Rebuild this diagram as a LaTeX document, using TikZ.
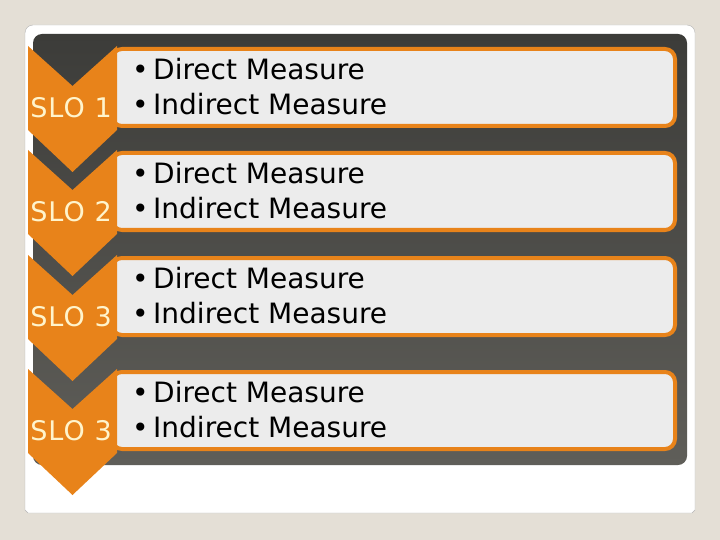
\documentclass[tikz,border=0pt]{standalone}
\usepackage{fontspec}
\setmainfont{DejaVu Sans}
\definecolor{bg}{HTML}{E4DFD6}
\definecolor{orng}{HTML}{E8831A}
\definecolor{darktop}{HTML}{3C3C39}
\definecolor{darkbot}{HTML}{5F5E59}
\definecolor{boxfill}{HTML}{ECECEC}
\definecolor{cream}{HTML}{FFF4CC}
\definecolor{slideline}{HTML}{B4B4B4}
\tikzset{
  itembox/.style={draw=orng, line width=4pt, fill=boxfill, rounded corners=10pt},
  chevron/.style={fill=orng},
  slotext/.style={text=cream, font=\fontsize{27}{32}\selectfont\addfontfeature{LetterSpace=4}, inner sep=0pt},
  itemtext/.style={text=black, font=\fontsize{28}{33}\selectfont, inner sep=0pt, anchor=west},
}
\begin{document}
\begin{tikzpicture}[x=1pt,y=-1pt]
\fill[bg] (0,0) rectangle (720,540);
\useasboundingbox (0,0) rectangle (720,540);
\draw[slideline, fill=white] (25,510) -- (25,33) [rounded corners=8pt] -- (25,25) -- (695,25) [sharp corners] -- (695,33) -- (695,510) -- (692,513) -- (28,513) -- cycle;
\shade[top color=darktop, bottom color=darkbot, rounded corners=9pt] (33,34) rectangle (687,465);
\foreach \b/\lab [count=\i] in {47/1,151/2,256/3,370/3}{
  \draw[itembox] (112,\b+2) rectangle (675,\b+79);
  \pgfmathsetmacro{\T}{\b-1}
  \fill[chevron] (28,\T) -- (72.5,\T+40) -- (117,\T) -- (117,\T+84) -- (72.5,\T+126) -- (28,\T+84) -- cycle;
  \node[slotext] (slo\i) at (71,\b+61) {SLO \lab};
  \node[itemtext] (d\i) at (132,\b+22) {\makebox[21pt][l]{•}Direct Measure};
  \node[itemtext] (ind\i) at (132,\b+57) {\makebox[21pt][l]{•}Indirect Measure};
}
\end{tikzpicture}
\end{document}
